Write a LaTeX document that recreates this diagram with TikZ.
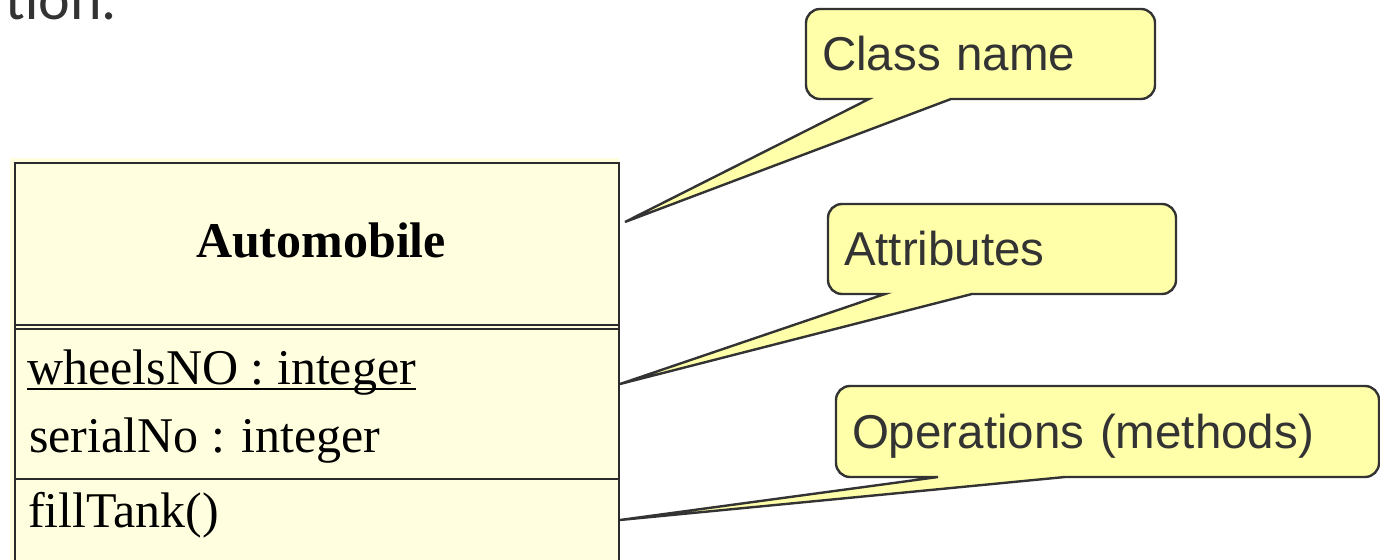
\documentclass[tikz,border=0pt]{standalone}
\usepackage{fontspec}
\setmainfont{Liberation Serif}
\newfontfamily\notefont{Liberation Sans}
\newfontfamily\slidefont{Carlito}
\usetikzlibrary{calc,backgrounds}

\definecolor{ink}{HTML}{333333}
\definecolor{classline}{HTML}{2B2B2B}
\definecolor{classfill}{HTML}{FFFFE0}
\definecolor{notefill}{HTML}{FFFFAA}

\tikzset{
  notebox/.style={anchor=north west, inner xsep=16pt, inner ysep=0pt, outer sep=0pt,
    text height=34pt, text depth=0pt, align=left, text=ink,
    font=\notefont\fontsize{47.5}{57}\selectfont},
  bubble/.style={draw=ink, fill=notefill, line width=2.4pt},
  classbox/.style={draw=classline, fill=classfill, line width=1.8pt, anchor=north west,
    inner sep=0pt, outer sep=0pt},
  compline/.style={draw=classline, line width=1.5pt},
  member/.style={anchor=base west, inner sep=0pt, text=black,
    font=\fontsize{50}{60}\selectfont},
}

% speech-bubble outline: box of node #1 with a pointed tail
% whose base runs from x=#2 to x=#3 on the bottom edge and ends at #4
\newcommand\bubblepath[4]{%
  \path[bubble] let \p1=(#1.south west), \p2=(#1.north east) in
    (#3pt,\y1) -- (\x2-14pt,\y1) arc[start angle=-90,end angle=0,radius=14pt]
    -- (\x2,\y2-14pt) arc[start angle=0,end angle=90,radius=14pt]
    -- (\x1+14pt,\y2) arc[start angle=90,end angle=180,radius=14pt]
    -- (\x1,\y1+14pt) arc[start angle=180,end angle=270,radius=14pt]
    -- (#2pt,\y1) -- (#4) -- cycle;}

\begin{document}
\begin{tikzpicture}[x=1pt,y=1pt]
\useasboundingbox (0,0) rectangle (1380,559);

% end of the slide sentence above the diagram
\node[anchor=base west, inner sep=0pt, text=ink, font=\slidefont\fontsize{60}{72}\selectfont]
  (head) at (5,539) {tion.};

% class symbol
\fill[classfill] (10,401) rectangle (619,-10);
\node[classbox, minimum width=604pt, minimum height=420pt] (cls) at (15,396) {};
\draw[compline] (cls.west |- 0,234) -- (cls.east |- 0,234);
\draw[compline] (cls.west |- 0,230) -- (cls.east |- 0,230);
\draw[compline] (cls.west |- 0,80) -- (cls.east |- 0,80);

\node[anchor=base, inner sep=0pt, font=\bfseries\fontsize{50}{60}\selectfont] (cname) at (321,301) {Automobile};
\node[member] (attr1) at (27,174) {wheelsNO : integer};
\draw[line width=2pt] ([yshift=-4.5pt]attr1.base west) -- ([yshift=-4.5pt]attr1.base east);
\node[member] (attr2) at (29,106) {serialNo : integer};
\node[member] (op1) at (28,31) {fillTank()};

% callout notes
\node[notebox, text width=317pt, minimum height=90pt] (n1) at (806,550) {Class name};
\node[notebox, text width=316pt, minimum height=90pt] (n2) at (828,355) {Attributes};
\node[notebox, text width=511pt, minimum height=91pt] (n3) at (836,173) {Operations (methods)};

\coordinate (t1) at (625,337);
\coordinate (t2) at (620,175);
\coordinate (t3) at (620,39);

\begin{scope}[on background layer]
  \bubblepath{n1}{869}{951}{t1}
  \bubblepath{n2}{885}{972}{t2}
  \bubblepath{n3}{938}{1065}{t3}
\end{scope}
\end{tikzpicture}
\end{document}
